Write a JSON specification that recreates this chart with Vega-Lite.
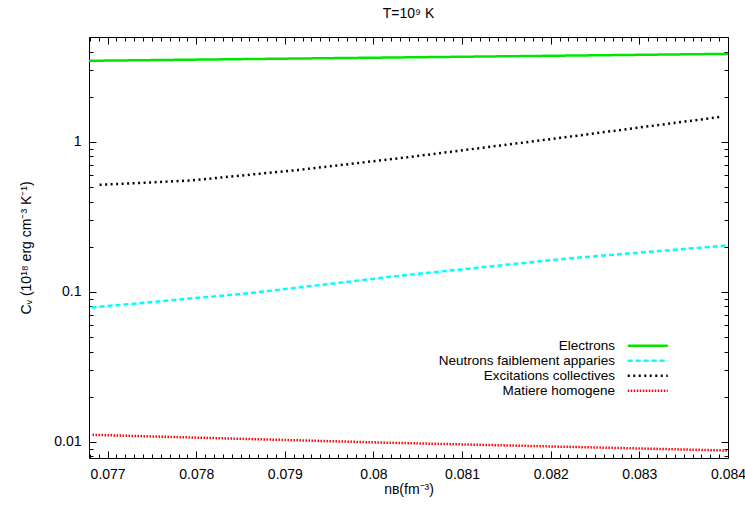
{
  "$schema": "https://vega.github.io/schema/vega-lite/v6.json",
  "width": 639,
  "height": 421,
  "autosize": "none",
  "padding": {"left": 89, "top": 37, "right": 17, "bottom": 56},
  "config": {
    "font": "Liberation Sans",
    "view": {"stroke": "#000", "strokeWidth": 1},
    "axis": {"grid": false, "domain": false, "tickColor": "#000", "tickWidth": 1, "labelColor": "#000", "labelFontSize": 14, "titleColor": "#000", "titleFontSize": 14, "titleFontWeight": "normal", "labelFont": "Liberation Sans", "titleFont": "Liberation Sans"},
    "legend": {"labelFont": "Liberation Sans"}
  },
  "title": {"text": "T=10⁹ K", "fontSize": 14, "fontWeight": "normal", "color": "#000", "offset": 16, "font": "Liberation Sans"},
  "data": {
    "values": [
      {"series": "Electrons", "n": 0.07679, "cv": 3.47},
      {"series": "Electrons", "n": 0.0804, "cv": 3.66},
      {"series": "Electrons", "n": 0.0840, "cv": 3.86},
      {"series": "Neutrons faiblement apparies", "n": 0.07682, "cv": 0.0786},
      {"series": "Neutrons faiblement apparies", "n": 0.0786, "cv": 0.098},
      {"series": "Neutrons faiblement apparies", "n": 0.0804, "cv": 0.130},
      {"series": "Neutrons faiblement apparies", "n": 0.0822, "cv": 0.167},
      {"series": "Neutrons faiblement apparies", "n": 0.0840, "cv": 0.204},
      {"series": "Excitations collectives", "n": 0.07691, "cv": 0.517},
      {"series": "Excitations collectives", "n": 0.07793, "cv": 0.552},
      {"series": "Excitations collectives", "n": 0.07917, "cv": 0.651},
      {"series": "Excitations collectives", "n": 0.08042, "cv": 0.794},
      {"series": "Excitations collectives", "n": 0.08211, "cv": 1.063},
      {"series": "Excitations collectives", "n": 0.08392, "cv": 1.468},
      {"series": "Matiere homogene", "n": 0.07683, "cv": 0.01113},
      {"series": "Matiere homogene", "n": 0.08008, "cv": 0.00989},
      {"series": "Matiere homogene", "n": 0.0840, "cv": 0.00875}
    ]
  },
  "resolve": {"axis": {"x": "independent", "y": "independent"}},
  "layer": [
    {
      "mark": {"type": "line", "strokeWidth": 2.5, "clip": true},
      "encoding": {
        "x": {"field": "n", "type": "quantitative",
          "scale": {"domain": [0.07679, 0.084], "nice": false, "zero": false},
          "axis": {"orient": "bottom", "values": [0.077, 0.078, 0.079, 0.08, 0.081, 0.082, 0.083, 0.084], "format": "~g", "tickSize": -7, "labelPadding": 16, "title": "nʙ(fm⁻³)", "titlePadding": 1, "labelFlush": false}},
        "y": {"field": "cv", "type": "quantitative",
          "scale": {"type": "log", "domain": [0.0078, 5.0], "nice": false},
          "axis": {"orient": "left", "values": [0.01, 0.1, 1], "format": "~g", "tickSize": -7, "labelPadding": 15, "title": "Cᵥ (10¹⁸ erg cm⁻³ K⁻¹)", "titlePadding": 20, "labelFlush": false}},
        "color": {"field": "series", "type": "nominal",
          "scale": {"domain": ["Electrons", "Neutrons faiblement apparies", "Excitations collectives", "Matiere homogene"], "range": ["#00e600", "#00ffff", "#000000", "#ff0000"]},
          "legend": {"orient": "none", "legendX": 552, "legendY": 302, "title": null, "symbolType": "M-4,0H4", "symbolSize": 100, "symbolStrokeWidth": 2.5, "labelAlign": "right", "labelOffset": -39.5, "labelFontSize": 13.5, "labelColor": "#000", "rowPadding": 0, "padding": 0, "labelLimit": 400}},
        "strokeDash": {"field": "series", "type": "nominal",
          "scale": {"domain": ["Electrons", "Neutrons faiblement apparies", "Excitations collectives", "Matiere homogene"], "range": [[1, 0], [5, 3], [2, 3.5], [1.5, 1.5]]},
          "legend": {"orient": "none", "legendX": 552, "legendY": 302, "title": null, "symbolType": "M-4,0H4", "symbolSize": 100, "symbolStrokeWidth": 2.5, "labelAlign": "right", "labelOffset": -39.5, "labelFontSize": 13.5, "labelColor": "#000", "rowPadding": 0, "padding": 0, "labelLimit": 400}}
      }
    },
    {
      "mark": {"type": "point", "opacity": 0},
      "encoding": {
        "x": {"field": "n", "type": "quantitative",
          "axis": {"orient": "bottom", "values": [0.0768,0.0769,0.077,0.0771,0.0772,0.0773,0.0774,0.0775,0.0776,0.0777,0.0778,0.0779,0.078,0.0781,0.0782,0.0783,0.0784,0.0785,0.0786,0.0787,0.0788,0.0789,0.079,0.0791,0.0792,0.0793,0.0794,0.0795,0.0796,0.0797,0.0798,0.0799,0.08,0.0801,0.0802,0.0803,0.0804,0.0805,0.0806,0.0807,0.0808,0.0809,0.081,0.0811,0.0812,0.0813,0.0814,0.0815,0.0816,0.0817,0.0818,0.0819,0.082,0.0821,0.0822,0.0823,0.0824,0.0825,0.0826,0.0827,0.0828,0.0829,0.083,0.0831,0.0832,0.0833,0.0834,0.0835,0.0836,0.0837,0.0838,0.0839], "labels": false, "tickSize": -4, "title": null}},
        "y": {"field": "cv", "type": "quantitative",
          "axis": {"orient": "left", "values": [0.008,0.009,0.02,0.03,0.04,0.05,0.06,0.07,0.08,0.09,0.2,0.3,0.4,0.5,0.6,0.7,0.8,0.9,2,3,4,5], "labels": false, "tickSize": -4, "title": null}}
      }
    },
    {
      "mark": {"type": "point", "opacity": 0},
      "encoding": {
        "x": {"field": "n", "type": "quantitative",
          "axis": {"orient": "top", "values": [0.077, 0.078, 0.079, 0.08, 0.081, 0.082, 0.083, 0.084], "labels": false, "tickSize": -7, "title": null}},
        "y": {"field": "cv", "type": "quantitative",
          "axis": {"orient": "right", "values": [0.01, 0.1, 1], "labels": false, "tickSize": -7, "title": null}}
      }
    },
    {
      "mark": {"type": "point", "opacity": 0},
      "encoding": {
        "x": {"field": "n", "type": "quantitative",
          "axis": {"orient": "top", "values": [0.0768,0.0769,0.077,0.0771,0.0772,0.0773,0.0774,0.0775,0.0776,0.0777,0.0778,0.0779,0.078,0.0781,0.0782,0.0783,0.0784,0.0785,0.0786,0.0787,0.0788,0.0789,0.079,0.0791,0.0792,0.0793,0.0794,0.0795,0.0796,0.0797,0.0798,0.0799,0.08,0.0801,0.0802,0.0803,0.0804,0.0805,0.0806,0.0807,0.0808,0.0809,0.081,0.0811,0.0812,0.0813,0.0814,0.0815,0.0816,0.0817,0.0818,0.0819,0.082,0.0821,0.0822,0.0823,0.0824,0.0825,0.0826,0.0827,0.0828,0.0829,0.083,0.0831,0.0832,0.0833,0.0834,0.0835,0.0836,0.0837,0.0838,0.0839], "labels": false, "tickSize": -4, "title": null}},
        "y": {"field": "cv", "type": "quantitative",
          "axis": {"orient": "right", "values": [0.008,0.009,0.02,0.03,0.04,0.05,0.06,0.07,0.08,0.09,0.2,0.3,0.4,0.5,0.6,0.7,0.8,0.9,2,3,4,5], "labels": false, "tickSize": -4, "title": null}}
      }
    }
  ]
}
